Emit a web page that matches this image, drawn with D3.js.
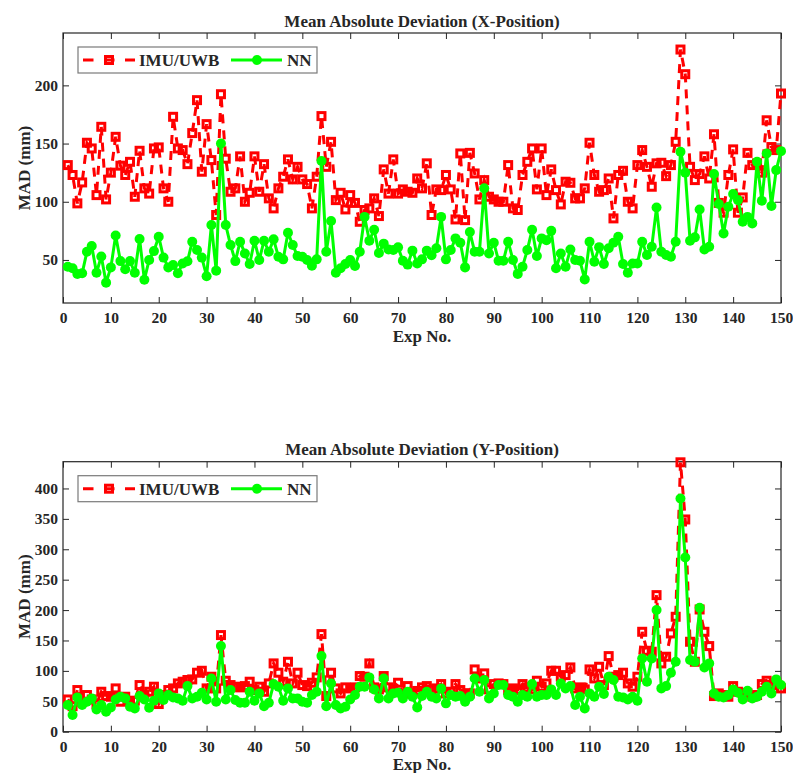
<!DOCTYPE html>
<html>
<head>
<meta charset="utf-8">
<script src="https://cdn.jsdelivr.net/npm/d3@7"></script>
<style>
    body { margin: 0; background: #fff; }
    svg text { font-family: 'Liberation Serif', 'Times New Roman', serif; font-weight: bold; fill: #262626; }
</style>
</head>
<body>
<svg id="chart" width="793" height="773"></svg>
<script>
// experiment numbers 1..150
const expNo = d3.range(1, 151);

// MAD x-position (mm)
const imuX = [
    131.5, 123, 98.6, 116.6, 150.7, 145.8, 105.7, 164.4, 102, 125,
    155.8, 131, 123, 134.3, 104.3, 143.8, 111.5, 107, 145.8, 146.7,
    111.5, 100, 173, 145.8, 144.4, 132.3, 159, 187.3, 125.8, 166.7,
    135.8, 88.6, 192.4, 137, 108.6, 111.5, 139, 100, 107.7, 139,
    108.6, 132.3, 102.9, 94.3, 111.5, 121.5, 136.4, 119.2, 130, 119.2,
    115.2, 94.3, 121.5, 173.6, 130, 151.5, 101.4, 107.7, 93.4, 105.7,
    99, 82.8, 92.9, 94.3, 102.9, 87.7, 127.8, 107, 136.4, 107,
    110.6, 108.6, 107.7, 120, 111.5, 133, 88.6, 110.6, 110, 123,
    110.6, 84.8, 141.5, 84.2, 142, 124.3, 102, 118.6, 104.3, 102,
    100, 100, 131.5, 94.3, 92.9, 123, 134.3, 145.8, 110.6, 145.8,
    105.7, 127.8, 110, 97.7, 117.2, 116.3, 102.9, 102.9, 111.5, 150.7,
    123, 108.6, 110, 120, 85.7, 123, 126.6, 100, 94.3, 131.5,
    144.4, 130, 112.9, 133, 133.5, 122, 131.5, 151.5, 230.8, 209.6,
    130, 118.6, 123.8, 139, 120, 158, 99, 90.6, 123, 145,
    90.6, 103.7, 142, 131.5, 133, 125, 170, 147, 144.4, 193
];
const nnX = [
    44.2, 42.8, 38, 38.5, 57, 62, 39, 53, 30.5, 43.6,
    71, 49, 42, 49, 39, 68, 33, 50, 57.6, 70,
    52, 43.6, 45.6, 38.5, 47, 48.8, 65.7, 58.5, 52, 36,
    80, 40.8, 150, 80, 62.8, 49, 65.7, 55.6, 46.5, 66.5,
    50, 66.5, 57, 67.7, 52.8, 50.5, 73.4, 62.8, 53.4, 52.8,
    50, 45, 50.5, 135, 57, 83.4, 39, 42.8, 46.5, 50,
    44.8, 57, 87, 66.5, 76, 56, 64, 59, 58.5, 60.8,
    49.3, 46, 58, 47, 50.5, 58, 54, 60, 87, 50.5,
    58.5, 68.5, 64.8, 43.6, 74, 57, 57, 111.5, 55.6, 64.8,
    49.3, 49.3, 65.7, 50, 38, 44.2, 58.5, 76, 53.4, 68.5,
    67, 75, 42.8, 55.6, 44.2, 59, 50, 49.3, 33.3, 65.7,
    48.5, 61, 46.5, 60, 64.8, 70, 46.5, 39, 47, 47,
    65.7, 54.2, 61.4, 95, 57, 54.2, 52.8, 65.7, 143, 125,
    66.5, 69.4, 93.4, 59, 61.4, 123.8, 98, 72.8, 95.7, 106.6,
    101.4, 82.8, 87, 81.4, 134.3, 100.9, 141.5, 96.3, 127.2, 143.5
];

// MAD y-position (mm)
const imuY = [
    53, 42, 68.5, 49.3, 60.3, 53, 45.5, 65.7, 58.6, 57.5,
    71.2, 49.3, 57.5, 49.3, 51, 76.7, 60.3, 65.7, 74, 45.5,
    60.3, 68.5, 71.2, 79.4, 82.2, 85, 86, 97, 100.2, 71.2,
    90.4, 71.2, 158.9, 83.8, 76.7, 74, 72.9, 75, 82.2, 68.5,
    74, 65.7, 79.4, 112.3, 97, 82.2, 115, 79.4, 97, 76.7,
    75, 80.5, 89.3, 160.5, 58.6, 97, 71.2, 63, 72.9, 71.2,
    72.9, 91.5, 90.4, 112.3, 72.9, 69.6, 91.5, 72.9, 69.6, 80.5,
    63, 75, 63, 67, 72.9, 75, 69.6, 71.2, 78.3, 63,
    65.7, 78.3, 68.5, 63, 63, 102.4, 87.6, 95.9, 69.6, 78.3,
    79.4, 78.3, 68.5, 71.2, 68.5, 78.3, 72.9, 69.6, 83.8, 74,
    79.4, 100.2, 100.2, 90.4, 93.1, 105.7, 71.2, 72.9, 69.6, 102.4,
    87.6, 106.8, 76.7, 124.3, 90.4, 93.1, 97, 79.4, 74, 90.4,
    164.3, 133.1, 131.5, 224.6, 112.3, 123.3, 161.6, 189, 443, 349,
    147.9, 115, 201, 164.3, 140.8, 58.6, 63, 60.3, 57.5, 75,
    65.7, 63, 63, 57.5, 60.3, 78.3, 83.8, 76.7, 80.5, 71.2
];
const nnY = [
    43.8, 27.4, 56.4, 43.8, 49.3, 54.8, 36.7, 43.8, 32.9, 40,
    53, 57.5, 54.8, 41, 38.3, 58.6, 53, 39.4, 51, 63,
    52, 60.3, 56.4, 54.8, 51, 75, 54.8, 57.5, 64, 53,
    87.6, 49.3, 140.8, 53, 68.5, 52, 47.7, 47.7, 65.7, 51,
    63, 42, 47.7, 78.3, 74, 51, 71.2, 54.8, 54.8, 49.3,
    47.7, 60.3, 65.7, 124.3, 42, 79.4, 43.8, 38.3, 41, 53,
    60.3, 74, 74, 89.3, 69.6, 54.8, 87.6, 54.8, 63, 64,
    54.8, 65.7, 57.5, 40, 58.6, 65.7, 57.5, 54.8, 71.2, 46.6,
    60.3, 57.5, 58.6, 49.3, 57.5, 87.6, 65.7, 85, 54.8, 63,
    76.7, 76.7, 60.3, 57.5, 49.3, 60.3, 57.5, 78.3, 57.5, 60.3,
    60.3, 69.6, 60.3, 79.4, 71.2, 75, 43.8, 57.5, 38.3, 63,
    57.5, 74, 62, 90.4, 85, 57.5, 56.4, 53, 57.5, 51,
    120.5, 82.2, 120.5, 200, 71.2, 75, 97, 115, 383.5, 286.5,
    117.8, 115, 203.8, 105.7, 112.3, 63, 57.5, 56.4, 60.3, 69.6,
    64, 53, 67.4, 54.8, 57.5, 65.7, 74, 63, 86, 76.7
];

// ticks
const xTicks = d3.range(0, 151, 10);
const yTicksTop = [50, 100, 150, 200];
const yTicksBottom = [0, 50, 100, 150, 200, 250, 300, 350, 400];

const seriesNames = ['IMU/UWB', 'NN'];
const RED = '#ff0000';
const GREEN = '#00ff00';
const AXIS = '#262626';

const svg = d3.select('#chart');

const drawPanel = (p) => {
    const g = svg.append('g');
    const x = d3.scaleLinear().domain([0, 150]).range([p.left, p.right]);
    const y = d3.scaleLinear().domain(p.yDomain).range([p.bottom, p.top]);

    // axes (ticks point inward, like matlab)
    const bottomAxis = g.append('g')
        .attr('transform', `translate(0,${p.bottom})`)
        .call(d3.axisBottom(x).tickValues(xTicks).tickSizeInner(-6).tickSizeOuter(0).tickPadding(9));
    const topAxis = g.append('g')
        .attr('transform', `translate(0,${p.top})`)
        .call(d3.axisTop(x).tickValues(xTicks).tickSizeInner(-6).tickSizeOuter(0).tickFormat(''));
    const leftAxis = g.append('g')
        .attr('transform', `translate(${p.left},0)`)
        .call(d3.axisLeft(y).tickValues(p.yTicks).tickSizeInner(-6).tickSizeOuter(0).tickPadding(5));
    const rightAxis = g.append('g')
        .attr('transform', `translate(${p.right},0)`)
        .call(d3.axisRight(y).tickValues(p.yTicks).tickSizeInner(-6).tickSizeOuter(0).tickFormat(''));

    [bottomAxis, topAxis, leftAxis, rightAxis].forEach(a => {
        a.select('.domain').remove();
        a.selectAll('line').attr('stroke', AXIS).attr('stroke-width', 1);
        a.selectAll('text').style('font-size', '15.5px').attr('fill', AXIS);
    });

    g.append('rect')
        .attr('x', p.left).attr('y', p.top)
        .attr('width', p.right - p.left).attr('height', p.bottom - p.top)
        .attr('fill', 'none').attr('stroke', AXIS).attr('stroke-width', 1.2);

    // IMU/UWB dashed red with squares
    const line = d3.line().x((d, i) => x(expNo[i])).y(d => y(d));
    g.append('path').datum(p.imu)
        .attr('d', line)
        .attr('fill', 'none')
        .attr('stroke', RED)
        .attr('stroke-width', 3)
        .attr('stroke-dasharray', '9,7');
    g.append('g').selectAll('rect')
        .data(p.imu)
        .join('rect')
        .attr('x', (d, i) => x(expNo[i]) - 3.5)
        .attr('y', d => y(d) - 3.5)
        .attr('width', 7).attr('height', 7)
        .attr('fill', 'none')
        .attr('stroke', RED)
        .attr('stroke-width', 3);

    // NN solid green with dots
    g.append('path').datum(p.nn)
        .attr('d', line)
        .attr('fill', 'none')
        .attr('stroke', GREEN)
        .attr('stroke-width', 3)
        .attr('stroke-linejoin', 'round');
    g.append('g').selectAll('circle')
        .data(p.nn)
        .join('circle')
        .attr('cx', (d, i) => x(expNo[i]))
        .attr('cy', d => y(d))
        .attr('r', 5)
        .attr('fill', GREEN);

    // title + labels
    g.append('text')
        .attr('x', (p.left + p.right) / 2).attr('y', p.top - 6.5)
        .attr('text-anchor', 'middle')
        .style('font-size', '17px')
        .text(p.title);
    g.append('text')
        .attr('x', (p.left + p.right) / 2).attr('y', p.bottom + 38.5)
        .attr('text-anchor', 'middle')
        .style('font-size', '17px')
        .text('Exp No.');
    g.append('text')
        .attr('transform', `translate(29.5,${(p.top + p.bottom) / 2}) rotate(-90)`)
        .attr('text-anchor', 'middle')
        .style('font-size', '17px')
        .text('MAD (mm)');

    // legend
    const lg = g.append('g').attr('transform', `translate(${p.left + 15},${p.top + 14})`);
    lg.append('rect')
        .attr('width', 239).attr('height', 26)
        .attr('fill', '#fff').attr('stroke', '#7a7a7a').attr('stroke-width', 1.2);
    const cy = 13;
    lg.append('line')
        .attr('x1', 5).attr('x2', 57).attr('y1', cy).attr('y2', cy)
        .attr('stroke', RED).attr('stroke-width', 3).attr('stroke-dasharray', '10.5,10.5');
    lg.append('rect')
        .attr('x', 31 - 3.5).attr('y', cy - 3.5).attr('width', 7).attr('height', 7)
        .attr('fill', 'none').attr('stroke', RED).attr('stroke-width', 3);
    lg.append('text').attr('x', 61).attr('y', cy + 6).style('font-size', '17px').text(seriesNames[0]);
    lg.append('line')
        .attr('x1', 153).attr('x2', 204).attr('y1', cy).attr('y2', cy)
        .attr('stroke', GREEN).attr('stroke-width', 3);
    lg.append('circle').attr('cx', 179).attr('cy', cy).attr('r', 5).attr('fill', GREEN);
    lg.append('text').attr('x', 209).attr('y', cy + 6).style('font-size', '17px').text(seriesNames[1]);
};

drawPanel({
    left: 63, right: 781, top: 33, bottom: 303,
    yDomain: [13, 245], yTicks: yTicksTop,
    imu: imuX, nn: nnX,
    title: 'Mean Absolute Deviation (X-Position)'
});

drawPanel({
    left: 63, right: 781, top: 461.7, bottom: 731.7,
    yDomain: [0, 444], yTicks: yTicksBottom,
    imu: imuY, nn: nnY,
    title: 'Mean Absolute Deviation (Y-Position)'
});
</script>
</body>
</html>
